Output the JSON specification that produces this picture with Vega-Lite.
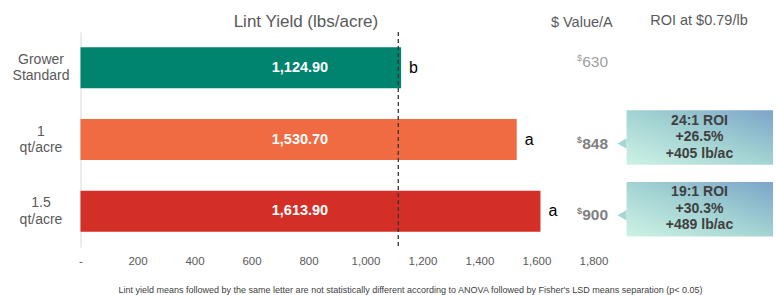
{
  "$schema": "https://vega.github.io/schema/vega-lite/v6.json",
  "autosize": "none",
  "width": 513,
  "height": 215,
  "padding": {"left": 80.5, "top": 32, "right": 183.5, "bottom": 48},
  "background": "white",
  "config": {"font": "Liberation Sans", "view": {"stroke": null}},
  "data": {"values": [
    {"cat": "Grower Standard", "yield": 1124.9, "letter": "b", "val": "630", "roi": null},
    {"cat": "1 qt/acre", "yield": 1530.7, "letter": "a", "val": "848", "roi": "24:1 ROI\n+26.5%\n+405 lb/ac"},
    {"cat": "1.5 qt/acre", "yield": 1613.9, "letter": "a", "val": "900", "roi": "19:1 ROI\n+30.3%\n+489 lb/ac"}
  ]},
  "layer": [
    {
      "mark": {"type": "bar"},
      "encoding": {
        "y": {"field": "cat", "type": "nominal", "sort": null,
              "scale": {"paddingInner": 0.428, "paddingOuter": 0.214},
              "axis": {"title": null, "domainColor": "#d9d9d9", "ticks": false, "labelAlign": "center", "labelPadding": 40, "labelFontSize": 14, "labelLineHeight": 16.5, "labelExpr": "split(datum.label, ' ')", "labelColor": "#595959", "labelBaseline": "middle", "labelLimit": 0, "labelOffset": -8}},
        "x": {"field": "yield", "type": "quantitative",
              "scale": {"domain": [0, 1800], "nice": false, "zero": true},
              "axis": {"values": [0, 200, 400, 600, 800, 1000, 1200, 1400, 1600, 1800], "labelExpr": "datum.value == 0 ? '-' : format(datum.value, ',.0f')", "labelFlush": false, "labelOverlap": false, "domain": false, "ticks": false, "grid": false, "labelFontSize": 11.5, "labelColor": "#595959", "labelPadding": 8,
                       "title": "Lint yield means followed by the same letter are not statistically different according to ANOVA  followed by Fisher's LSD means separation (p< 0.05)",
                       "titleFontSize": 9, "titleFontWeight": "normal", "titleColor": "#404040", "titleX": 329.5, "titleY": 45, "titleBaseline": "alphabetic", "titleAlign": "center", "titleLimit": 0}},
        "color": {"field": "cat", "type": "nominal", "legend": null,
                  "scale": {"domain": ["Grower Standard", "1 qt/acre", "1.5 qt/acre"], "range": ["#00836f", "#f06b42", "#d42f27"]}}
      }
    },
    {
      "data": {"values": [{"ref": 1115}]},
      "mark": {"type": "rule", "strokeDash": [4, 3], "color": "#333333", "strokeWidth": 1.3},
      "encoding": {"x": {"field": "ref", "type": "quantitative"}}
    },
    {
      "mark": {"type": "text", "color": "white", "fontWeight": "bold", "fontSize": 14.5, "align": "center", "baseline": "middle"},
      "encoding": {
        "y": {"field": "cat", "type": "nominal", "sort": null},
        "x": {"datum": 770, "type": "quantitative"},
        "text": {"field": "yield", "type": "quantitative", "format": ",.2f"}
      }
    },
    {
      "mark": {"type": "text", "color": "black", "fontSize": 16, "align": "left", "baseline": "middle", "dx": 8},
      "encoding": {
        "y": {"field": "cat", "type": "nominal", "sort": null},
        "x": {"field": "yield", "type": "quantitative"},
        "text": {"field": "letter"}
      }
    },
    {
      "transform": [{"filter": "datum.cat == 'Grower Standard'"}],
      "mark": {"type": "text", "color": "#a0a0a0", "fontSize": 15.5, "align": "right", "baseline": "middle", "dy": -6},
      "encoding": {
        "y": {"field": "cat", "type": "nominal", "sort": null},
        "x": {"datum": 1851, "type": "quantitative"},
        "text": {"field": "val"}
      }
    },
    {
      "transform": [{"filter": "datum.cat != 'Grower Standard'"}],
      "mark": {"type": "text", "color": "#808080", "fontSize": 15.5, "fontWeight": "bold", "align": "right", "baseline": "middle", "dy": 4},
      "encoding": {
        "y": {"field": "cat", "type": "nominal", "sort": null},
        "x": {"datum": 1851, "type": "quantitative"},
        "text": {"field": "val"}
      }
    },
    {
      "transform": [{"filter": "datum.cat == 'Grower Standard'"}],
      "mark": {"type": "text", "color": "#a0a0a0", "fontSize": 9, "align": "right", "baseline": "middle", "dx": -26, "dy": -10, "text": "$"},
      "encoding": {
        "y": {"field": "cat", "type": "nominal", "sort": null},
        "x": {"datum": 1851, "type": "quantitative"}
      }
    },
    {
      "transform": [{"filter": "datum.cat != 'Grower Standard'"}],
      "mark": {"type": "text", "color": "#808080", "fontSize": 9, "fontWeight": "bold", "align": "right", "baseline": "middle", "dx": -26, "dy": 0, "text": "$"},
      "encoding": {
        "y": {"field": "cat", "type": "nominal", "sort": null},
        "x": {"datum": 1851, "type": "quantitative"}
      }
    },
    {
      "transform": [{"filter": "datum.roi != null"}],
      "mark": {"type": "point", "shape": "triangle-left", "filled": true, "size": 110, "color": "#a6d6d6", "opacity": 1, "yOffset": 4},
      "encoding": {
        "y": {"field": "cat", "type": "nominal", "sort": null},
        "x": {"datum": 1900, "type": "quantitative"}
      }
    },
    {
      "transform": [{"filter": "datum.roi != null"}],
      "mark": {"type": "rect", "height": {"band": 1.33}, "yOffset": -2,
               "color": {"gradient": "linear", "x1": 0, "y1": 1, "x2": 1, "y2": 0,
                         "stops": [{"offset": 0, "color": "#cdf2e4"}, {"offset": 0.5, "color": "#a3d3d3"}, {"offset": 1, "color": "#7ca4c9"}]}},
      "encoding": {
        "y": {"field": "cat", "type": "nominal", "sort": null},
        "x": {"datum": 1916, "type": "quantitative"},
        "x2": {"datum": 2430}
      }
    },
    {
      "transform": [{"filter": "datum.roi != null"}],
      "mark": {"type": "text", "lineBreak": "\n", "fontSize": 14, "fontWeight": "bold", "color": "#404040", "align": "center", "baseline": "middle", "lineHeight": 16.5, "dy": -19},
      "encoding": {
        "y": {"field": "cat", "type": "nominal", "sort": null},
        "x": {"datum": 2172, "type": "quantitative"},
        "text": {"field": "roi"}
      }
    },
    {
      "data": {"values": [{"cat": "Grower Standard", "h": "Lint Yield (lbs/acre)"}]},
      "mark": {"type": "text", "fontSize": 17, "color": "#595959", "align": "center", "baseline": "middle", "dy": -46},
      "encoding": {
        "y": {"field": "cat", "type": "nominal", "sort": null},
        "x": {"datum": 791, "type": "quantitative"},
        "text": {"field": "h"}
      }
    },
    {
      "data": {"values": [{"cat": "Grower Standard", "h": "$ Value/A"}]},
      "mark": {"type": "text", "fontSize": 14.5, "color": "#595959", "align": "center", "baseline": "middle", "dy": -45},
      "encoding": {
        "y": {"field": "cat", "type": "nominal", "sort": null},
        "x": {"datum": 1759, "type": "quantitative"},
        "text": {"field": "h"}
      }
    },
    {
      "data": {"values": [{"cat": "Grower Standard", "h": "ROI at $0.79/lb"}]},
      "mark": {"type": "text", "fontSize": 14.5, "color": "#595959", "align": "center", "baseline": "middle", "dy": -47},
      "encoding": {
        "y": {"field": "cat", "type": "nominal", "sort": null},
        "x": {"datum": 2170, "type": "quantitative"},
        "text": {"field": "h"}
      }
    }
  ]
}
